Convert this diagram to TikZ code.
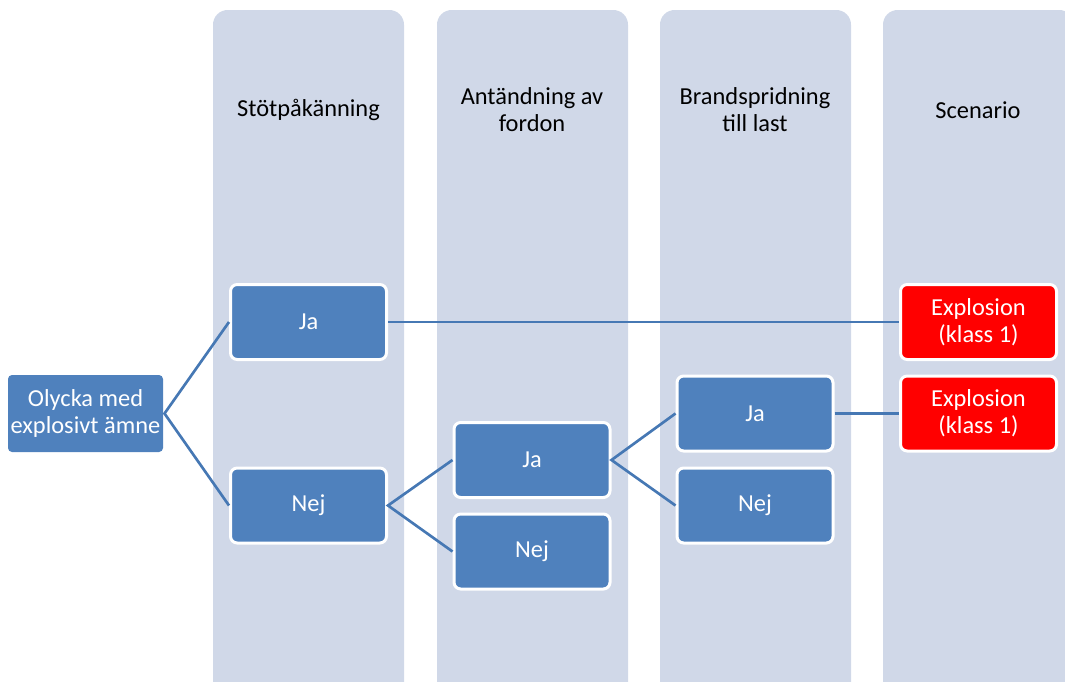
\documentclass[tikz,border=0pt]{standalone}
\usepackage{fontspec}
\setmainfont{Carlito}
\definecolor{lane}{RGB}{208,216,232}
\definecolor{boxblue}{RGB}{79,129,189}
\definecolor{linkblue}{RGB}{70,120,180}
\begin{document}
\begin{tikzpicture}[x=0.75pt,y=-0.75pt,
          lane/.style = {fill=lane, rounded corners=11pt},
          every node/.style = {font=\fontsize{18.3pt}{20.25pt}\selectfont, align=center},
          choice/.style = {shape=rectangle, rounded corners=5pt, fill=boxblue, draw=white,
          line width=2.25pt, text=white, minimum width=117pt, minimum height=56.25pt},
          outcome/.style = {choice, fill=red},
          link/.style = {draw=linkblue, line width=2pt}
          ]
          \useasboundingbox (0,0) rectangle (1065,682);
          \clip (0,0) rectangle (1065,682);
          \foreach \x in {213,437,660,883}
            \fill[lane] (\x,10) rectangle ++(191,700);
          \node (h1) at (308.5,110) {Stötpåkänning};
          \node (h2) at (532,110) {Antändning av\\fordon};
          \node (h3) at (755,110) {Brandspridning\\till last};
          \node (h4) at (978,110) {Scenario};
          \node[choice, draw=none, rounded corners=3pt, inner xsep=0pt,
            minimum width=116.25pt, minimum height=57.75pt]
            (start) at (85.5,413.5) {Olycka med\\explosivt ämne};
          \node[choice] (ja1) at (308.5,322) {Ja};
          \node[choice] (nej1) at (308.5,505.5) {Nej};
          \node[choice] (ja2) at (532,460) {Ja};
          \node[choice] (nej2) at (532,551.5) {Nej};
          \node[choice] (ja3) at (755,413.5) {Ja};
          \node[choice] (nej3) at (755,505.5) {Nej};
          \node[outcome] (exp1) at (978.5,322) {Explosion\\(klass 1)};
          \node[outcome] (exp2) at (978.5,413.5) {Explosion\\(klass 1)};
          \draw[link] (ja1.west) -- (start.east) -- (nej1.west);
          \draw[link] (ja2.west) -- (nej1.east) -- (nej2.west);
          \draw[link] (ja3.west) -- (ja2.east) -- (nej3.west);
          \draw[link] (ja1) -- (exp1);
          \draw[link] (ja3) -- (exp2);
\end{tikzpicture}
\end{document}
